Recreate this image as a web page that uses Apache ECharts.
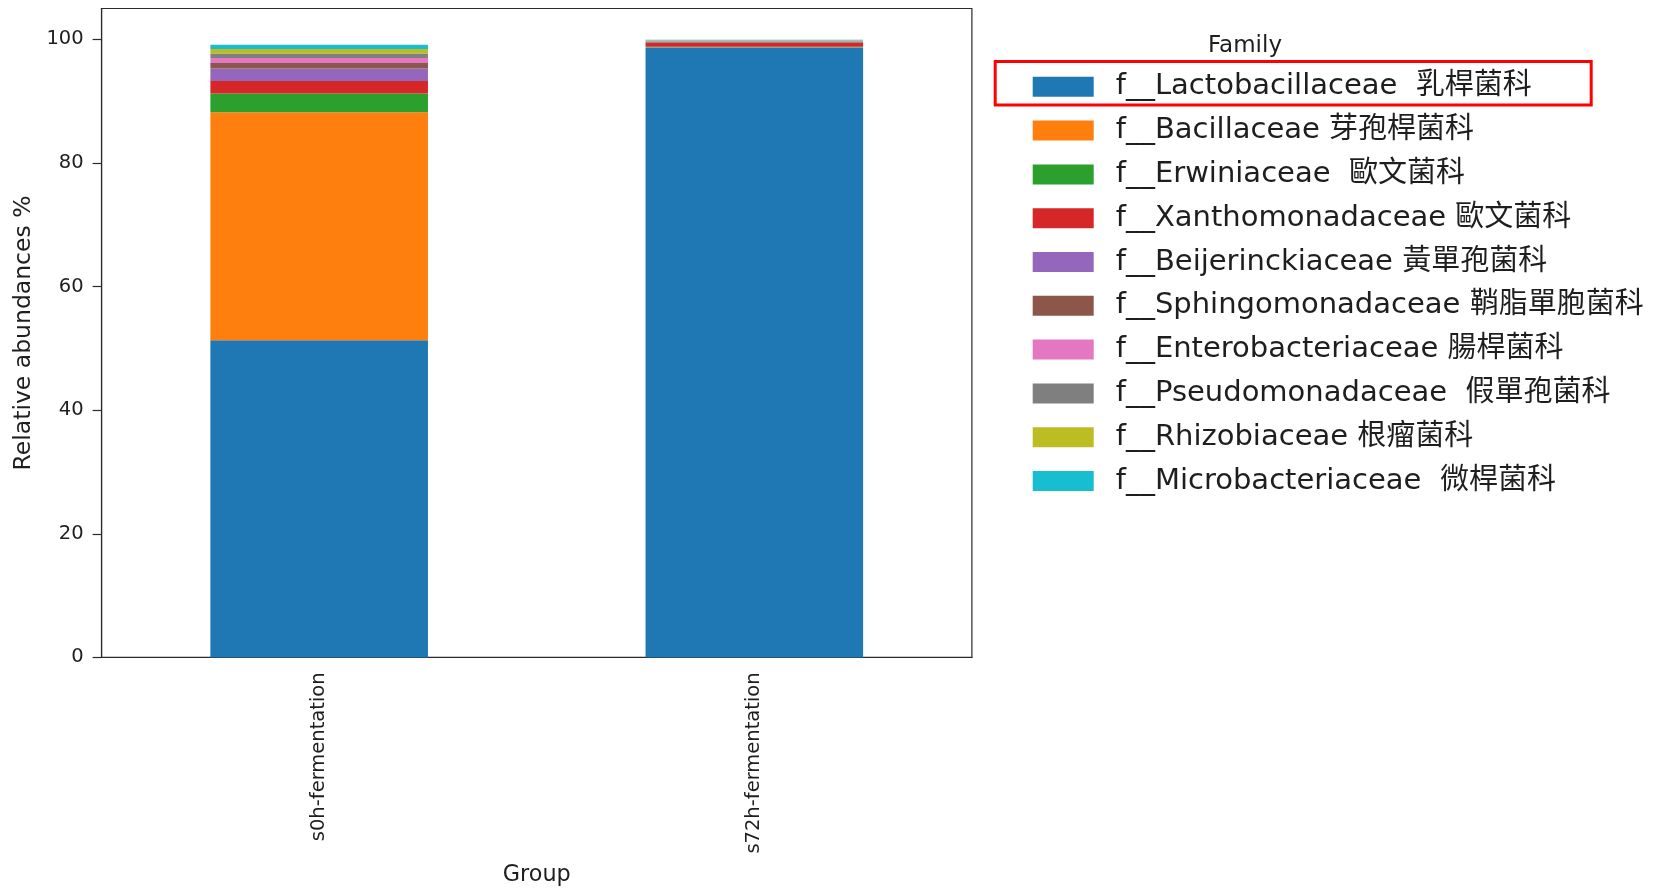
<!DOCTYPE html>
<html>
<head>
<meta charset="utf-8">
<script src="https://cdn.jsdelivr.net/npm/echarts@6/dist/echarts.min.js"></script>
<style>
  html, body { margin: 0; padding: 0; background: #fff; }
  #chart { width: 1660px; height: 889px; }
</style>
</head>
<body>
<div id="chart"></div>
<script>
// Groups (x-axis categories)
const categories = ['s0h-fermentation', 's72h-fermentation'];

// Family names shown in the legend (stack order, bottom to top)
const familyNames = [
  'f__Lactobacillaceae  乳桿菌科',
  'f__Bacillaceae 芽孢桿菌科',
  'f__Erwiniaceae  歐文菌科',
  'f__Xanthomonadaceae 歐文菌科',
  'f__Beijerinckiaceae 黃單孢菌科',
  'f__Sphingomonadaceae 鞘脂單胞菌科',
  'f__Enterobacteriaceae 腸桿菌科',
  'f__Pseudomonadaceae  假單孢菌科',
  'f__Rhizobiaceae 根瘤菌科',
  'f__Microbacteriaceae  微桿菌科'
];

// Relative abundance (%) per family, one value per group
const lactobacillaceae  = [51.3, 98.7];
const bacillaceae       = [36.9, 0.05];
const erwiniaceae       = [3.05, 0.08];
const xanthomonadaceae  = [2.0, 0.6];
const beijerinckiaceae  = [2.05, 0.05];
const sphingomonadaceae = [0.9, 0.12];
const enterobacteriaceae = [0.8, 0.1];
const pseudomonadaceae  = [0.7, 0.08];
const rhizobiaceae      = [0.75, 0.1];
const microbacteriaceae = [0.7, 0.07];

const familyValues = [
  lactobacillaceae, bacillaceae, erwiniaceae, xanthomonadaceae, beijerinckiaceae,
  sphingomonadaceae, enterobacteriaceae, pseudomonadaceae, rhizobiaceae, microbacteriaceae
];

const palette = ['#1f77b4', '#ff7f0e', '#2ca02c', '#d62728', '#9467bd',
                 '#8c564b', '#e377c2', '#7f7f7f', '#bcbd22', '#17becf'];

const yTicks = [0, 20, 40, 60, 80, 100];

const FONT = "'DejaVu Sans', 'Noto Sans CJK TC', sans-serif";
const INK = '#1e1e1e';

const series = familyNames.map((name, i) => ({
  name: name,
  type: 'bar',
  stack: 'total',
  barWidth: '50%',
  itemStyle: { color: palette[i] },
  emphasis: { disabled: true },
  data: familyValues[i]
}));

const chart = echarts.init(document.getElementById('chart'), null, { renderer: 'canvas' });
chart.setOption({
  animation: false,
  color: palette,
  grid: {
    left: 101.6, right: 688.1, top: 8.5, bottom: 231.6,
    outerBoundsMode: 'none',
    containLabel: false,
    show: true, borderColor: '#2a2a2a', borderWidth: 1.2, backgroundColor: 'transparent'
  },
  xAxis: {
    type: 'category',
    data: categories,
    name: 'Group',
    nameLocation: 'middle',
    nameGap: 207,
    nameTextStyle: { fontFamily: FONT, fontSize: 22.3, color: INK },
    axisLine: { lineStyle: { color: '#2a2a2a', width: 1.2 } },
    axisTick: { alignWithLabel: true, length: 9, lineStyle: { color: '#2a2a2a', width: 1.2 } },
    axisLabel: { rotate: 90, margin: 15, fontFamily: FONT, fontSize: 19.5, color: INK }
  },
  yAxis: {
    type: 'value',
    min: 0,
    max: 105,
    interval: 20,
    name: 'Relative abundances %',
    nameLocation: 'middle',
    nameRotate: 90,
    nameGap: 58,
    nameTextStyle: { fontFamily: FONT, fontSize: 23.5, color: INK },
    splitLine: { show: false },
    axisLine: { show: true, lineStyle: { color: '#2a2a2a', width: 1.2 } },
    axisTick: { show: true, length: 9, customValues: yTicks, lineStyle: { color: '#2a2a2a', width: 1.2 } },
    axisLabel: { margin: 18, customValues: yTicks, fontFamily: FONT, fontSize: 19.5, color: INK }
  },
  legend: {
    orient: 'vertical',
    left: 1032.7,
    top: 71.8,
    padding: 0,
    itemGap: 13.8,
    itemWidth: 61,
    itemHeight: 20,
    icon: 'rect',
    selectedMode: false,
    data: familyNames,
    textStyle: {
      fontFamily: FONT, fontSize: 29, color: INK, lineHeight: 30,
      padding: [0, 0, 0, 17]
    }
  },
  graphic: [
    {
      type: 'text',
      left: 1208, top: 35,
      style: { text: 'Family', font: "23px 'DejaVu Sans', sans-serif", fill: INK }
    },
    {
      type: 'rect',
      shape: { x: 995.2, y: 61.5, width: 596, height: 43.5 },
      style: { fill: 'none', stroke: '#ff0000', lineWidth: 3 }
    }
  ],
  series: series
});
</script>
</body>
</html>
